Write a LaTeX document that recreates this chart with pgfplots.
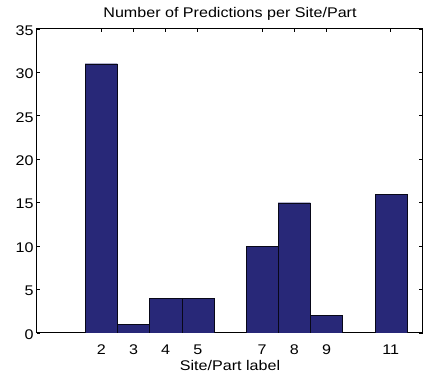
\documentclass[border=0pt]{standalone}
\usepackage{pgfplots}
\pgfplotsset{compat=1.18}
\usepackage{fontspec}
\setmainfont[FakeStretch=1.15]{Liberation Sans}
\definecolor{barblue}{RGB}{40,40,120}
\begin{document}
\begin{tikzpicture}[x=1pt,y=1pt]
\useasboundingbox (-37,-44) rectangle (387,333);
\begin{axis}[
  at={(0,0)}, anchor=south west,
  scale only axis, width=386pt, height=304pt,
  xmin=0, xmax=12, ymin=0, ymax=35,
  xtick={2,3,4,5,7,8,9,11},
  ytick={0,5,...,35},
  tick align=inside,
  major tick length=3.5pt,
  tick style={black, line width=0.8pt},
  axis line style={black, line width=1pt},
  ticklabel style={font=\fontsize{14}{14}\selectfont},
  xticklabel style={anchor=base, yshift=-22pt},
  yticklabel style={yshift=-1.5pt},
  /pgf/number format/assume math mode=true,
  title={Number of Predictions per Site/Part},
  title style={font=\fontsize{14}{14}\selectfont, at={(axis description cs:0.5,1)}, anchor=base, yshift=5.5pt},
  xlabel={Site/Part label},
  xlabel style={font=\fontsize{14}{14}\selectfont, at={(axis description cs:0.5,0)}, anchor=base, yshift=-38pt},
  ylabel={},
]
\addplot[ybar interval=1, fill=barblue, draw=black!80!barblue, line width=0.4pt]
  coordinates {(1.5,31) (2.5,1) (3.5,4) (4.5,4) (5.5,0)};
\addplot[ybar interval=1, fill=barblue, draw=black!80!barblue, line width=0.4pt]
  coordinates {(6.5,10) (7.5,15) (8.5,2) (9.5,0)};
\addplot[ybar interval=1, fill=barblue, draw=black!80!barblue, line width=0.4pt]
  coordinates {(10.5,16) (11.5,0)};
\end{axis}
\end{tikzpicture}
\end{document}
